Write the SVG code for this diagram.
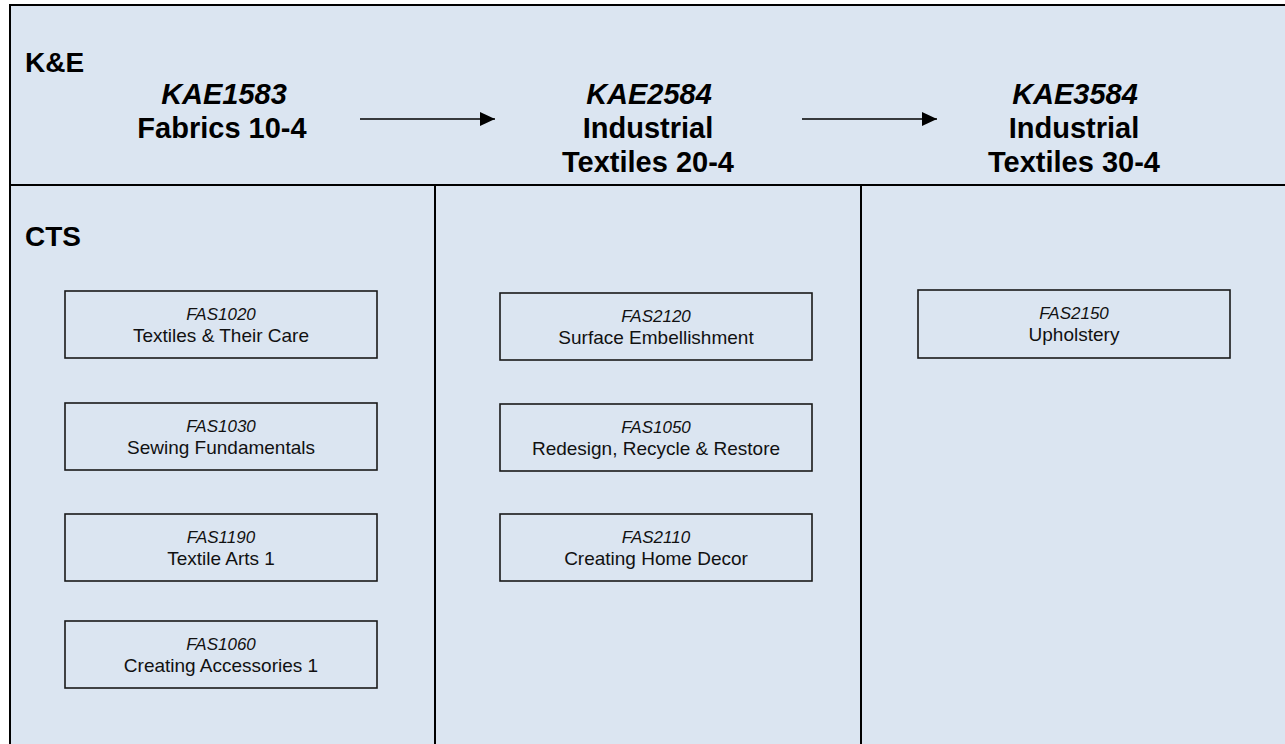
<svg xmlns="http://www.w3.org/2000/svg" width="1285" height="744" viewBox="0 0 1285 744">
<defs>
<marker id="ah" markerWidth="16" markerHeight="14" refX="15" refY="7" orient="auto" markerUnits="userSpaceOnUse">
<path d="M0,0 L15,7 L0,14 Z" fill="#000"/>
</marker>
<style>
.frame{fill:none;stroke:#000;stroke-width:2}
.div{stroke:#000;stroke-width:2}
.box{fill:none;stroke:#1a1a1a;stroke-width:1.6}
.lab{font-family:"Liberation Sans",Arial,sans-serif;font-weight:bold;font-size:28px;fill:#000}
.hd{font-family:"Liberation Sans",Arial,sans-serif;font-weight:bold;font-size:29px;fill:#000;text-anchor:middle}
.it{font-style:italic}
.code{font-family:"Liberation Sans",Arial,sans-serif;font-style:italic;font-size:17px;fill:#111;text-anchor:middle}
.name{font-family:"Liberation Sans",Arial,sans-serif;font-size:19px;fill:#111;text-anchor:middle}
.conn{stroke:#000;stroke-width:1.5;fill:none}
</style>
</defs>
<rect x="0" y="0" width="1285" height="744" fill="#fff"/>
<rect x="10" y="5" width="1290" height="760" fill="#DBE5F1"/>
<g id="grid">
<path class="frame" d="M10,800 L10,5 L1290,5"/>
<line class="div" x1="10" y1="185" x2="1290" y2="185"/>
<line class="div" x1="435" y1="185" x2="435" y2="750"/>
<line class="div" x1="861" y1="185" x2="861" y2="750"/>
</g>
<g id="row-labels">
<text class="lab" x="25" y="72">K&amp;E</text>
<text class="lab" x="25" y="246">CTS</text>
</g>
<g id="KAE1583">
<text class="hd it" x="224" y="104">KAE1583</text>
<text class="hd" x="222" y="138">Fabrics 10-4</text>
</g>
<g id="KAE2584">
<text class="hd it" x="649" y="104">KAE2584</text>
<text class="hd" x="648" y="138">Industrial</text>
<text class="hd" x="648" y="172">Textiles 20-4</text>
</g>
<g id="KAE3584">
<text class="hd it" x="1075" y="104">KAE3584</text>
<text class="hd" x="1074" y="138">Industrial</text>
<text class="hd" x="1074" y="172">Textiles 30-4</text>
</g>
<g id="connectors">
<line class="conn" x1="360" y1="119" x2="495" y2="119" marker-end="url(#ah)"/>
<line class="conn" x1="802" y1="119" x2="937" y2="119" marker-end="url(#ah)"/>
</g>
<g id="FAS1020">
<rect class="box" x="65" y="291" width="312" height="67"/>
<text class="code" x="221" y="320">FAS1020</text>
<text class="name" x="221" y="342">Textiles &amp; Their Care</text>
</g>
<g id="FAS1030">
<rect class="box" x="65" y="403" width="312" height="67"/>
<text class="code" x="221" y="432">FAS1030</text>
<text class="name" x="221" y="454">Sewing Fundamentals</text>
</g>
<g id="FAS1190">
<rect class="box" x="65" y="514" width="312" height="67"/>
<text class="code" x="221" y="543">FAS1190</text>
<text class="name" x="221" y="565">Textile Arts 1</text>
</g>
<g id="FAS1060">
<rect class="box" x="65" y="621" width="312" height="67"/>
<text class="code" x="221" y="650">FAS1060</text>
<text class="name" x="221" y="672">Creating Accessories 1</text>
</g>
<g id="FAS2120">
<rect class="box" x="500" y="293" width="312" height="67"/>
<text class="code" x="656" y="322">FAS2120</text>
<text class="name" x="656" y="344">Surface Embellishment</text>
</g>
<g id="FAS1050">
<rect class="box" x="500" y="404" width="312" height="67"/>
<text class="code" x="656" y="433">FAS1050</text>
<text class="name" x="656" y="455">Redesign, Recycle &amp; Restore</text>
</g>
<g id="FAS2110">
<rect class="box" x="500" y="514" width="312" height="67"/>
<text class="code" x="656" y="543">FAS2110</text>
<text class="name" x="656" y="565">Creating Home Decor</text>
</g>
<g id="FAS2150">
<rect class="box" x="918" y="290" width="312" height="68"/>
<text class="code" x="1074" y="319">FAS2150</text>
<text class="name" x="1074" y="341">Upholstery</text>
</g>
</svg>
